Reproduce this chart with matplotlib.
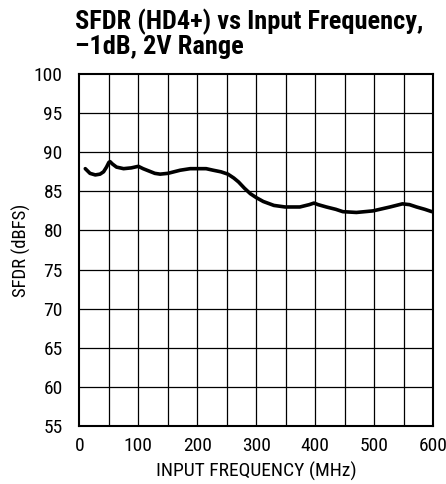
import matplotlib
matplotlib.use("Agg")
import matplotlib.pyplot as plt

# SFDR curve
freq = [10, 18, 27, 35, 41, 46, 50, 52, 56, 63, 75, 88, 100, 108, 118,
        128, 137, 150, 171, 188, 202, 215, 227, 240, 252, 262, 270, 280,
        290, 300, 312, 330, 349, 374, 390, 398, 405, 419, 435, 447, 470,
        498, 527, 548, 560, 572, 586, 598]
sfdr = [87.9, 87.3, 87.1, 87.2, 87.5, 88.1, 88.7, 88.8, 88.5, 88.1, 87.9,
        88.0, 88.2, 87.9, 87.6, 87.3, 87.2, 87.3, 87.7, 87.9, 87.9, 87.9,
        87.7, 87.5, 87.2, 86.7, 86.2, 85.4, 84.7, 84.2, 83.7, 83.2, 83.0,
        83.0, 83.3, 83.5, 83.3, 83.0, 82.7, 82.4, 82.3, 82.5, 83.0, 83.4,
        83.3, 83.0, 82.7, 82.4]

xticks = [0, 100, 200, 300, 400, 500, 600]
yticks = [55, 60, 65, 70, 75, 80, 85, 90, 95, 100]

font = ['Roboto Condensed', 'Archivo Narrow', 'Liberation Sans Narrow', 'DejaVu Sans']

fig = plt.figure(figsize=(4.46, 4.84), dpi=100)
ax = fig.add_axes([0.178, 0.120, 0.793, 0.727])

# grid every 50 MHz / 5 dB
for f in range(50, 600, 50):
    ax.axvline(f, color='black', lw=0.9, zorder=1)
for v in range(60, 100, 5):
    ax.axhline(v, color='black', lw=0.9, zorder=1)

ax.plot(freq, sfdr, color='black', lw=2.6, solid_capstyle='round', zorder=3)

ax.set_xlim(0, 600)
ax.set_ylim(55, 100)
ax.set_xticks(xticks)
ax.set_yticks(yticks)
ax.tick_params(axis='x', length=0, pad=8)
ax.tick_params(axis='y', length=0, pad=12)
for lab in ax.get_xticklabels() + ax.get_yticklabels():
    lab.set_family(font)
    lab.set_fontsize(14)
for s in ax.spines.values():
    s.set_linewidth(1.5)

ax.set_xlabel('INPUT FREQUENCY (MHz)', family=font, fontsize=14, labelpad=5)
ax.set_ylabel('SFDR (dBFS)', family=font, fontsize=13.5, labelpad=2)

fig.text(0.168, 0.983, 'SFDR (HD4+) vs Input Frequency,\n\u20131dB, 2V Range',
         family=font, fontsize=19, fontweight='bold', ha='left', va='top',
         linespacing=1.0)

fig.savefig('out.png', dpi=100)
